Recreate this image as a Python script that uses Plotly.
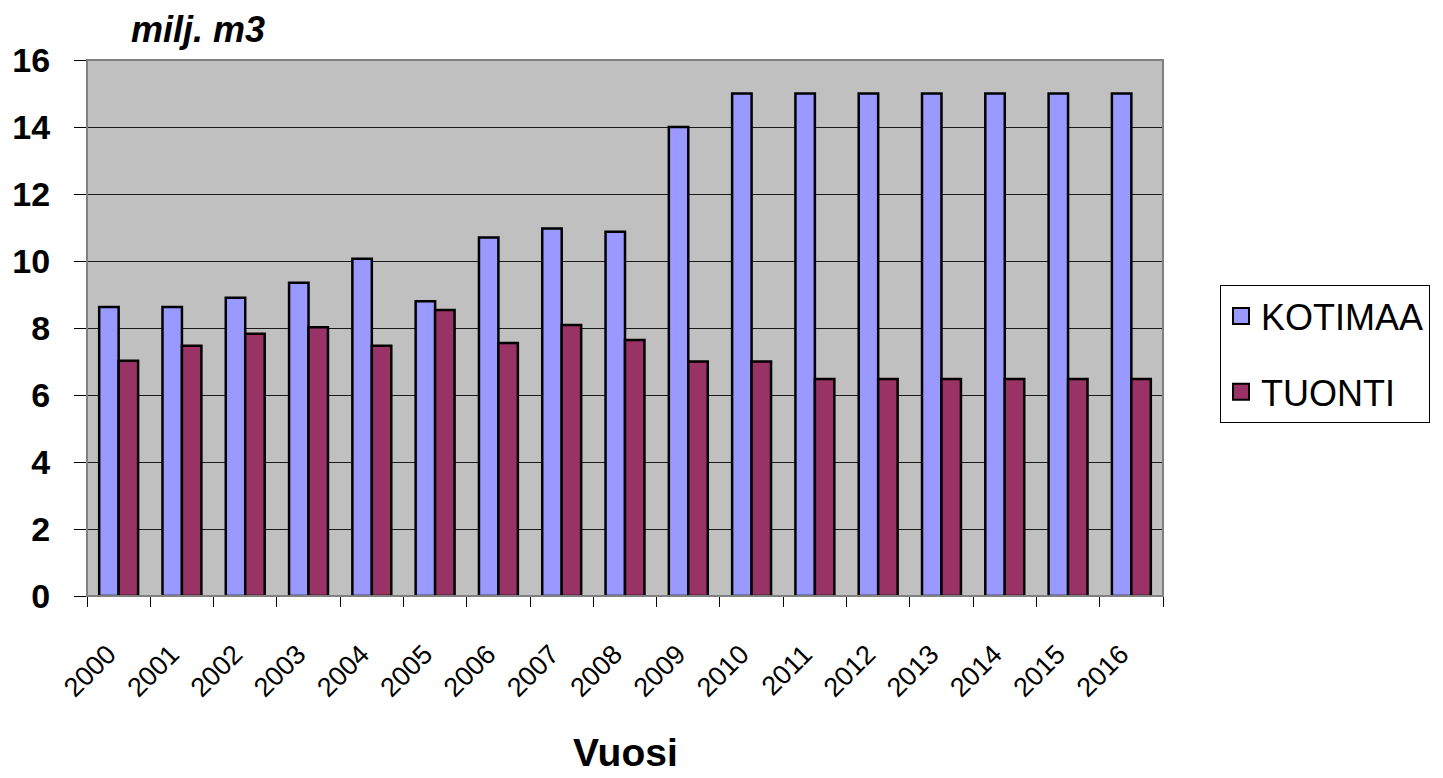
import plotly.graph_objects as go

years = ["2000", "2001", "2002", "2003", "2004", "2005", "2006", "2007", "2008",
         "2009", "2010", "2011", "2012", "2013", "2014", "2015", "2016"]
kotimaa = [8.63, 8.63, 8.9, 9.35, 10.07, 8.8, 10.7, 10.97, 10.87,
           14.0, 15.0, 15.0, 15.0, 15.0, 15.0, 15.0, 15.0]
tuonti = [7.02, 7.47, 7.83, 8.02, 7.47, 8.54, 7.55, 8.09, 7.64,
          7.0, 7.0, 6.48, 6.48, 6.48, 6.48, 6.48, 6.48]
y_ticks = [0, 2, 4, 6, 8, 10, 12, 14, 16]
# tick labels padded with non-breaking spaces so the rotated text sits left of the slot centre
year_labels = [y + "\u00a0\u00a0" for y in years]

FONT = "Liberation Sans, Arial, sans-serif"
C_KOT = "#9999FF"
C_TUO = "#993366"

W, H = 1435, 770  # page adds an 8px body margin
fig = go.Figure()
fig.add_trace(go.Bar(x=years, y=kotimaa, name="KOTIMAA", showlegend=False,
                     marker=dict(color=C_KOT, line=dict(color="black", width=2.5))))
fig.add_trace(go.Bar(x=years, y=tuonti, name="TUONTI", showlegend=False,
                     marker=dict(color=C_TUO, line=dict(color="black", width=2.5))))
# legend entries with larger square keys
for name, col, grp in [("KOTIMAA", C_KOT, "a"), ("TUONTI", C_TUO, "b")]:
    fig.add_trace(go.Scatter(x=[None], y=[None], mode="markers", name=name, legendgroup=grp,
                             marker=dict(symbol="square", size=16, color=col,
                                         line=dict(color="black", width=2)),
                             hoverinfo="skip"))

fig.update_layout(
    width=W, height=H,
    margin=dict(l=79, r=280, t=52, b=182, autoexpand=False),
    paper_bgcolor="white", plot_bgcolor="#C0C0C0",
    barmode="group", bargap=0.385, bargroupgap=0,
    font=dict(family=FONT, color="black"),
    legend=dict(x=(1212 - 79) / 1076, y=(588 - 277) / 536, xanchor="left", yanchor="top",
                bgcolor="white", bordercolor="black", borderwidth=1,
                font=dict(family=FONT, size=36, color="black"),
                traceorder="grouped", tracegroupgap=26),
    xaxis=dict(type="category", tickson="boundaries", ticks="outside", ticklen=10,
               tickcolor="black", tickwidth=1, showgrid=False,
               showline=True, linecolor="black", linewidth=1,
               tickmode="array", tickvals=years, ticktext=year_labels,
               tickangle=-45, tickfont=dict(family=FONT, size=27, color="black"),
               ticklabelstandoff=20),
    yaxis=dict(range=[0, 16], tickvals=y_ticks, ticks="outside", ticklen=12,
               tickcolor="black", tickwidth=1,
               showgrid=True, gridcolor="#1a1a1a", gridwidth=1,
               showline=True, linecolor="black", linewidth=1, zeroline=False,
               tickfont=dict(family=FONT, size=34, color="black", weight="bold"),
               ticklabelstandoff=17),
    shapes=[dict(type="rect", xref="paper", yref="paper", x0=0, x1=1, y0=0, y1=1,
                 line=dict(color="#808080", width=2), layer="above")],
    annotations=[
        dict(text="<b><i>milj. m3</i></b>", xref="paper", yref="paper",
             x=(190 - 79) / 1076, y=1 + 30 / 536, xanchor="center", yanchor="middle",
             showarrow=False, font=dict(family=FONT, size=36, color="black")),
        dict(text="<b>Vuosi</b>", xref="paper", yref="paper",
             x=(617 - 79) / 1076, y=-(745 - 588) / 536, xanchor="center", yanchor="middle",
             showarrow=False, font=dict(family=FONT, size=39, color="black")),
    ],
)
fig.update_xaxes(layer="above traces")
fig.update_yaxes(layer="above traces")

fig.write_html("out.html")
